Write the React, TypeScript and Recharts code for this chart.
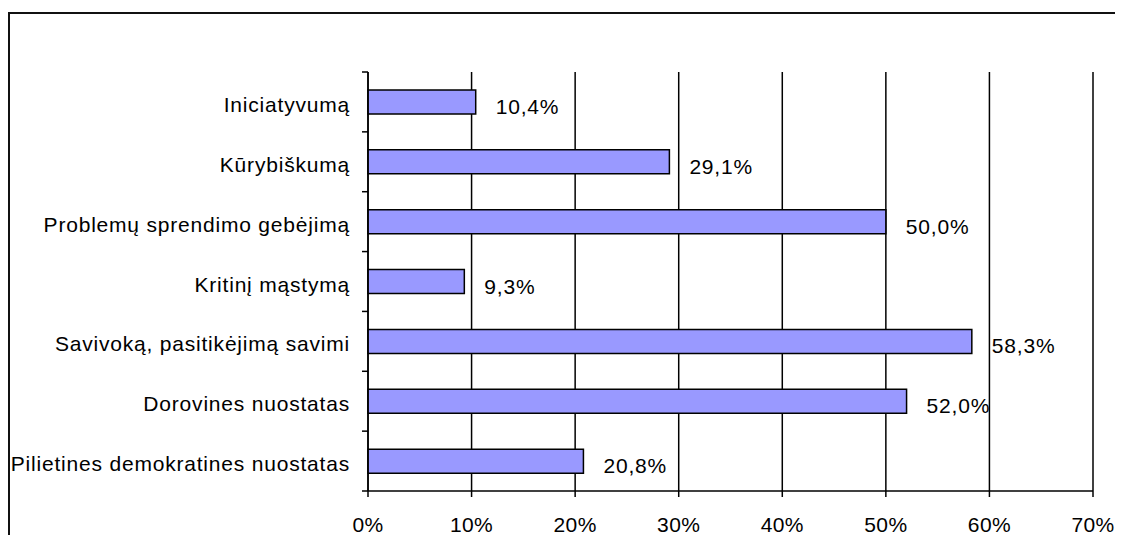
import React from 'react';
import { BarChart, Bar, XAxis, YAxis, CartesianGrid, LabelList } from 'recharts';

const categories = [
  'Iniciatyvumą',
  'Kūrybiškumą',
  'Problemų sprendimo gebėjimą',
  'Kritinį mąstymą',
  'Savivoką, pasitikėjimą savimi',
  'Dorovines nuostatas',
  'Pilietines demokratines nuostatas',
];
const values = [10.4, 29.1, 50.0, 9.3, 58.3, 52.0, 20.8];
const xTicks = [0, 10, 20, 30, 40, 50, 60, 70];

const data = categories.map((name, i) => ({ name, value: values[i] }));

const FONT = '"Liberation Sans", Arial, sans-serif';
const W = 1115;
const H = 527;
const MARGIN = { top: 64, right: 30, bottom: 0, left: 0 };
const Y_AXIS_W = 360;
const X_AXIS_H = 44;
const AXIS_X = MARGIN.left + Y_AXIS_W;
const PLOT_H = H - MARGIN.top - MARGIN.bottom - X_AXIS_H;
const STEP = PLOT_H / categories.length;

const fmt = (v: number) => v.toFixed(1).replace('.', ',') + '%';

const YTick = (props: any) => {
  const { y, payload, index } = props;
  const last = index === categories.length - 1;
  return (
    <g>
      <line x1={AXIS_X - 6} x2={AXIS_X} y1={y - STEP / 2} y2={y - STEP / 2} stroke="#000" strokeWidth={1.5} />
      {last && (
        <line x1={AXIS_X - 6} x2={AXIS_X} y1={y + STEP / 2} y2={y + STEP / 2} stroke="#000" strokeWidth={1.5} />
      )}
      <text
        x={AXIS_X - 18}
        y={y + 10}
        textAnchor="end"
        fontSize={21}
        fontFamily={FONT}
        fill="#000"
        letterSpacing={0.8}
      >
        {payload.value}
      </text>
    </g>
  );
};

const ValueLabel = (props: any) => {
  const { x, y, width, height, value } = props;
  return (
    <text
      x={x + width + 20}
      y={y + height / 2 + 12}
      textAnchor="start"
      fontSize={21}
      fontFamily={FONT}
      fill="#000"
      letterSpacing={0.8}
    >
      {fmt(value)}
    </text>
  );
};

export default function App() {
  return (
    <div style={{ position: 'relative', width: W, height: H, fontFamily: FONT }}>
      <div
        style={{
          position: 'absolute',
          left: 0,
          top: 4,
          width: W,
          height: H - 4,
          borderTop: '2px solid #111',
          borderLeft: '2px solid #111',
          boxSizing: 'border-box',
        }}
      />
      <div style={{ position: 'absolute', left: 0, top: 0 }}>
        <BarChart width={W} height={H} layout="vertical" data={data} margin={MARGIN}>
          <CartesianGrid horizontal={false} vertical stroke="#000" strokeWidth={1.5} />
          <XAxis
            type="number"
            domain={[0, 70]}
            ticks={xTicks}
            tickFormatter={(v: number) => `${v}%`}
            height={X_AXIS_H}
            axisLine={{ stroke: '#000', strokeWidth: 1.5 }}
            tickLine={{ stroke: '#000', strokeWidth: 1.5 }}
            tickSize={6}
            tickMargin={20}
            tick={{ fill: '#000', fontSize: 21, fontFamily: FONT, letterSpacing: 0.4 }}
            interval={0}
          />
          <YAxis
            type="category"
            dataKey="name"
            width={Y_AXIS_W}
            axisLine={{ stroke: '#000', strokeWidth: 1.5 }}
            tickLine={false}
            tick={<YTick />}
            interval={0}
          />
          <Bar dataKey="value" fill="#9999FF" stroke="#000" strokeWidth={1.5} barSize={24} isAnimationActive={false}>
            <LabelList dataKey="value" content={<ValueLabel />} />
          </Bar>
        </BarChart>
      </div>
    </div>
  );
}
